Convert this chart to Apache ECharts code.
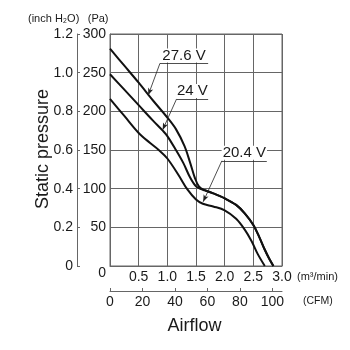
<!DOCTYPE html>
<html><head><meta charset="utf-8">
<script src="https://cdn.jsdelivr.net/npm/echarts@6/dist/echarts.min.js"></script>
<style>html,body{margin:0;padding:0;background:#fff}#c{width:350px;height:350px}</style>
</head><body><div id="c"></div>
<script>
// Airflow (m3/min) vs static pressure (Pa)
const curve276 = [[0,281],[0.25,259],[0.5,237],[0.75,214],[1.0,192],[1.15,177],[1.3,155],[1.4,133],[1.48,114],[1.55,103],[1.65,98],[1.8,94],[2.0,87.5],[2.2,79],[2.35,68],[2.5,53],[2.6,38],[2.7,21],[2.78,9],[2.85,0]];
const curve240 = [[0,248],[0.25,228],[0.5,208],[0.75,188],[0.92,175],[1.0,168],[1.15,150],[1.28,133],[1.4,114],[1.5,103],[1.6,99],[1.65,98],[1.8,94],[2.0,87.5],[2.2,79],[2.35,68],[2.5,53],[2.6,38],[2.7,21],[2.78,9],[2.85,0]];
const curve204 = [[0,216],[0.25,194],[0.5,172],[0.7,159],[0.85,150],[1.0,139],[1.2,117],[1.35,99],[1.5,86],[1.62,80.5],[1.8,77],[2.0,72],[2.2,61],[2.35,47],[2.47,32],[2.58,15],[2.7,0]];
const seriesNames = ['27.6 V','24 V','20.4 V'];
const underlines = [[[0.871,262],[1.712,262]],[[1.161,216],[1.712,216]],[[1.951,136],[2.735,136]]];
const arrowTips = [[0.667,221],[0.918,176],[1.625,83]];
const cfmTicks = [0,20,40,60,80,100];
const CFM_PER_M3MIN = 35.3147;

const NARROW = '"Liberation Sans Narrow","Liberation Sans",Arial,sans-serif';
const SANS = '"Liberation Sans",Arial,Helvetica,sans-serif';
const GRID = '#666';
const TXT = '#1a1a1a';
const TICK_FS = 14;

const curves = [curve276, curve240, curve204];
const chart = echarts.init(document.getElementById('c'), null, {renderer:'canvas'});

const series = curves.map((d, i) => ({
  type:'line', name: seriesNames[i], data: d, xAxisIndex:0, yAxisIndex:0,
  smooth:0.35, showSymbol:false, symbol:'none', animation:false, silent:true,
  lineStyle:{color:'#111', width:2},
  markLine:{
    silent:true, animation:false, symbol:['none','none'], symbolSize:[4,7],
    lineStyle:{color:'#222', width:0.8, type:'solid'},
    label:{show:false},
    data:[
      [{coord:underlines[i][0], lineStyle:{color:'#222',width:0.8,type:'solid'},
        label:{show:true, position:'insideMiddleTop', formatter: seriesNames[i], distance:1,
               color:TXT, fontSize:15, fontFamily:NARROW, lineHeight:14,
               backgroundColor:'#fff', padding:[0,1,0,1]}},
       {coord:underlines[i][1]}],
      [{coord:underlines[i][0], symbol:'none', lineStyle:{color:'#222',width:0.8,type:'solid'}},
       {coord:arrowTips[i], symbol:'arrow', symbolSize:[4,7]}]
    ]
  }
}));

const option = {
  animation:false,
  backgroundColor:'#fff',
  grid:{left:110, top:34, right:68, bottom:84, show:true, borderColor:GRID, borderWidth:1, containLabel:false},
  xAxis:[
    {type:'value', min:0, max:3, interval:0.5, position:'bottom',
     axisLine:{show:true, onZero:false, lineStyle:{color:GRID, width:1}},
     axisTick:{show:false},
     splitLine:{show:true, lineStyle:{color:GRID, width:1}},
     axisLabel:{margin:4, color:TXT, fontSize:TICK_FS, fontFamily:NARROW,
       formatter:v => v===0 ? '' : v.toFixed(1)}},
    {type:'value', min:0, max:3*CFM_PER_M3MIN, position:'bottom', offset:25,
     axisLine:{show:true, onZero:false, lineStyle:{color:GRID, width:1}},
     axisTick:{show:true, inside:true, length:3, customValues:cfmTicks, lineStyle:{color:GRID}},
     splitLine:{show:false},
     axisLabel:{margin:4, color:TXT, fontSize:TICK_FS, fontFamily:NARROW, customValues:cfmTicks,
       formatter:v => String(Math.round(v))}}
  ],
  yAxis:[
    {type:'value', min:0, max:300, interval:50, position:'left',
     axisLine:{show:true, onZero:false, lineStyle:{color:GRID, width:1}},
     axisTick:{show:false},
     splitLine:{show:true, lineStyle:{color:GRID, width:1}},
     axisLabel:{margin:4, color:TXT, fontSize:TICK_FS, fontFamily:NARROW,
       formatter:v => v===0 ? '{z|0}' : String(v),
       rich:{z:{padding:[14,0,0,0], fontSize:TICK_FS, fontFamily:NARROW, color:TXT}}}},
    {type:'value', min:0, max:1.2, interval:0.2, position:'left', offset:33,
     axisLine:{show:true, onZero:false, lineStyle:{color:GRID, width:1}},
     axisTick:{show:true, inside:true, length:3, lineStyle:{color:GRID}},
     splitLine:{show:false},
     axisLabel:{margin:4, color:TXT, fontSize:TICK_FS, fontFamily:NARROW,
       formatter:v => v===0 ? '0' : v.toFixed(1)}}
  ],
  graphic:[
    {type:'text', x:28, y:18.5, silent:true, style:{text:'(inch H₂O)', font:'11px '+SANS, fill:TXT, verticalAlign:'middle'}},
    {type:'text', x:108.5, y:18.5, silent:true, style:{text:'(Pa)', font:'11px '+SANS, fill:TXT, align:'right', verticalAlign:'middle'}},
    {type:'text', x:297, y:277, silent:true, style:{text:'(m³/min)', font:'11px '+SANS, fill:TXT, verticalAlign:'middle'}},
    {type:'text', x:303, y:301.5, silent:true, style:{text:'(CFM)', font:'10.5px '+SANS, fill:TXT, verticalAlign:'middle'}},
    {type:'text', x:43.5, y:149, rotation:Math.PI/2, silent:true, style:{text:'Static pressure', font:'18px '+SANS, fill:TXT, align:'center', verticalAlign:'middle'}},
    {type:'text', x:194.5, y:326, silent:true, style:{text:'Airflow', font:'18px '+SANS, fill:TXT, align:'center', verticalAlign:'middle'}}
  ],
  series: series
};
chart.setOption(option);
</script>
</body></html>
